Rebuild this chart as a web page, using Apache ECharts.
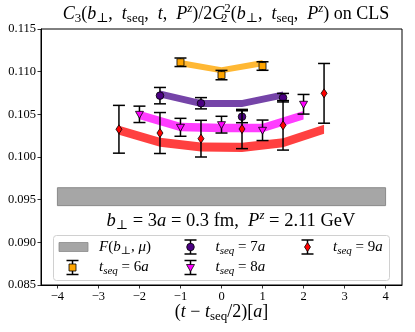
<!DOCTYPE html>
<html><head><meta charset="utf-8">
<script src="https://cdn.jsdelivr.net/npm/echarts@6/dist/echarts.min.js"></script>
<style>html,body{margin:0;padding:0;background:#fff}#c{width:415px;height:332px}</style>
</head><body><div id="c"></div>
<script>
// ---- data ----
const xTicks = [-4, -3, -2, -1, 0, 1, 2, 3, 4];
const yTicks = [0.085, 0.090, 0.095, 0.100, 0.105, 0.110, 0.115];

const x6 = [-1, 0, 1];
const y6 = [0.1111, 0.1096, 0.11066];
const e6 = [0.0005, 0.00055, 0.0005];
const fit6 = [0.1110, 0.11016, 0.1110];

const x7 = [-1.5, -0.5, 0.5, 1.5];
const y7 = [0.10719, 0.1063, 0.10472, 0.10695];
const e7 = [0.00096, 0.00066, 0.0007, 0.0005];
const fit7 = [0.10738, 0.10627, 0.10627, 0.10727];

const x8 = [-2, -1, 0, 1, 2];
const y8 = [0.1050, 0.10348, 0.10379, 0.10313, 0.10618];
const e8 = [0.00096, 0.00105, 0.00098, 0.0012, 0.00115];
const fit8 = [0.10492, 0.10352, 0.1034, 0.1034, 0.10489];

const x9 = [-2.5, -1.5, -0.5, 0.5, 1.5, 2.5];
const y9 = [0.10325, 0.10281, 0.10215, 0.10328, 0.10371, 0.10746];
const e9 = [0.0028, 0.0024, 0.00215, 0.0023, 0.0029, 0.0035];
const fit9 = [0.10313, 0.10172, 0.10117, 0.10113, 0.10168, 0.10325];

const fitHalf = [0.00036, 0.00042, 0.0005, 0.00053];
const Fx = [-4, 4];
const Fband = [0.0943, 0.0964];

// ---- styling ----
const SERIF = '"Liberation Serif","DejaVu Serif",serif';
function richSet(fs) {
  const sub = Math.round(fs * 0.7);
  return {
    r: {fontFamily: SERIF, fontSize: fs, fill: '#000'},
    i: {fontFamily: SERIF, fontSize: fs, fontStyle: 'italic', fill: '#000'},
    s: {fontFamily: SERIF, fontSize: sub, fill: '#000', padding: [Math.round(fs*0.5), 0, 0, 0]},
    si: {fontFamily: SERIF, fontSize: sub, fontStyle: 'italic', fill: '#000', padding: [Math.round(fs*0.5), 0, 0, 0]},
    s0: {fontFamily: SERIF, fontSize: sub, fill: '#000', width: 0, padding: [Math.round(fs*0.5), 0, 0, 0]},
    p: {fontFamily: SERIF, fontSize: sub, fill: '#000', padding: [0, 0, Math.round(fs*0.6), 0]},
    pi: {fontFamily: SERIF, fontSize: sub, fontStyle: 'italic', fill: '#000', padding: [0, 0, Math.round(fs*0.6), 0]}
  };
}
const COL = {o: '#FFA500', pu: '#4B0082', m: '#FF00FF', r: '#FF0000'};
const BAND = {o: '#FFB834', pu: '#7544A8', m: '#FF3DFF', r: '#FF4040'};

function markerEl(cx, cy, kind, color, z) {
  const st = {fill: color, stroke: '#000', lineWidth: 0.8};
  let el;
  if (kind === 'square') el = {type: 'rect', shape: {x: cx - 3.5, y: cy - 3.5, width: 7, height: 7}, style: st};
  else if (kind === 'circle') el = {type: 'circle', shape: {cx: cx, cy: cy, r: 3.8}, style: st};
  else if (kind === 'tri') el = {type: 'polygon', shape: {points: [[cx - 4, cy - 3], [cx + 4, cy - 3], [cx, cy + 4]]}, style: st};
  else el = {type: 'polygon', shape: {points: [[cx, cy - 4.5], [cx + 3, cy], [cx, cy + 4.5], [cx - 3, cy]]}, style: st};
  if (z != null) el.z = z;
  return el;
}
function errGlyph(cx, cy, ty, by, kind, color, z) {
  const cw = 6, ls = {stroke: '#000', lineWidth: 1.5};
  const arr = [
    {type: 'line', shape: {x1: cx, y1: ty, x2: cx, y2: by}, style: ls},
    {type: 'line', shape: {x1: cx - cw, y1: ty, x2: cx + cw, y2: ty}, style: ls},
    {type: 'line', shape: {x1: cx - cw, y1: by, x2: cx + cw, y2: by}, style: ls}
  ];
  if (z != null) arr.forEach(e => { e.z = z; });
  arr.push(markerEl(cx, cy, kind, color, z != null ? z + 1 : null));
  return arr;
}
function errSeries(xs, ys, es, kind, color) {
  return {
    type: 'custom', coordinateSystem: 'cartesian2d', z: 5, silent: true,
    data: xs.map((x, i) => [x, ys[i], es[i]]),
    renderItem: (p, api) => {
      const x = api.value(0), y = api.value(1), e = api.value(2);
      const c = api.coord([x, y]), t = api.coord([x, y + e]), b = api.coord([x, y - e]);
      return {type: 'group', children: errGlyph(c[0], c[1], t[1], b[1], kind, color)};
    }
  };
}
function bandSeries(xs, cs, h, color) {
  return {
    type: 'custom', coordinateSystem: 'cartesian2d', z: 3, silent: true,
    data: xs.map((x, i) => [x, cs[i]]),
    renderItem: (p, api) => {
      if (p.dataIndex !== 0) return null;
      const up = xs.map((x, i) => api.coord([x, cs[i] + h]));
      const lo = xs.map((x, i) => api.coord([x, cs[i] - h])).reverse();
      return {type: 'polygon', shape: {points: up.concat(lo)}, style: {fill: color}};
    }
  };
}
const fSeries = {
  type: 'custom', coordinateSystem: 'cartesian2d', z: 2, silent: true,
  data: [[Fx[0], Fband[0]], [Fx[1], Fband[1]]],
  renderItem: (p, api) => {
    if (p.dataIndex !== 0) return null;
    const a = api.coord([Fx[0], Fband[1]]), b = api.coord([Fx[1], Fband[0]]);
    return {type: 'rect', shape: {x: a[0], y: a[1], width: b[0] - a[0], height: b[1] - a[1]},
      style: {fill: '#A6A6A6', stroke: '#8A8A8A', lineWidth: 1}};
  }
};

// ---- legend (graphic) ----
const LR = richSet(15);
const legendGraphic = [
  {type: 'rect', shape: {x: 53.5, y: 235.5, width: 336, height: 45, r: 3},
    style: {fill: 'rgba(255,255,255,0.8)', stroke: '#d0d0d0', lineWidth: 1}, z: 10},
  {type: 'rect', shape: {x: 59, y: 242.5, width: 29, height: 9}, style: {fill: '#A6A6A6', stroke: '#8A8A8A', lineWidth: 0.8}, z: 11},
  {type: 'text', x: 99, y: 247, z: 11, style: {text: '{i|F}{r|(}{i|b}{s|⊥}{r|, }{i|μ}{r|)}', rich: LR, verticalAlign: 'middle', align: 'left'}},
  {type: 'text', x: 99, y: 267.5, z: 11, style: {text: '{i|t}{si|seq}{r| = 6}{i|a}', rich: LR, verticalAlign: 'middle', align: 'left'}},
  {type: 'text', x: 215.5, y: 247, z: 11, style: {text: '{i|t}{si|seq}{r| = 7}{i|a}', rich: LR, verticalAlign: 'middle', align: 'left'}},
  {type: 'text', x: 215.5, y: 267.5, z: 11, style: {text: '{i|t}{si|seq}{r| = 8}{i|a}', rich: LR, verticalAlign: 'middle', align: 'left'}},
  {type: 'text', x: 333, y: 247, z: 11, style: {text: '{i|t}{si|seq}{r| = 9}{i|a}', rich: LR, verticalAlign: 'middle', align: 'left'}}
]
  .concat(errGlyph(72.5, 267.5, 260.5, 274.5, 'square', COL.o, 12))
  .concat(errGlyph(190.5, 247, 240, 254, 'circle', COL.pu, 12))
  .concat(errGlyph(190.5, 267.5, 260.5, 274.5, 'tri', COL.m, 12))
  .concat(errGlyph(307.5, 247, 240, 254, 'diamond', COL.r, 12));

const TR = richSet(18);
const AR = richSet(18.5);
const otherGraphic = [
  {type: 'text', x: 226, y: 14, z: 11, style: {
    text: '{i|C}{s|3}{r|(}{i|b}{s|⊥}{r|,  }{i|t}{s|seq}{r|,  }{i|t}{r|,  }{i|P}{pi|z}{r|)/2}{i|C}{s0|2}{p|2}{r|(}{i|b}{s|⊥}{r|,  }{i|t}{s|seq}{r|,  }{i|P}{pi|z}{r|) on CLS}',
    rich: TR, align: 'center', verticalAlign: 'middle'}},
  {type: 'text', x: 231, y: 221, z: 11, style: {
    text: '{i|b}{s|⊥}{r| = 3}{i|a}{r| = 0.3 fm,  }{i|P}{pi|z}{r| = 2.11 GeV}',
    rich: AR, align: 'center', verticalAlign: 'middle'}},
  {type: 'text', x: 221.5, y: 312, z: 11, style: {
    text: '{r|(}{i|t}{r| − }{i|t}{s|seq}{r|/2)[}{i|a}{r|]}',
    rich: TR, align: 'center', verticalAlign: 'middle'}}
];

const chart = echarts.init(document.getElementById('c'), null, {renderer: 'canvas'});
chart.setOption({
  animation: false,
  backgroundColor: '#fff',
  grid: {left: 41, right: 13, top: 29, bottom: 47, show: true, borderColor: '#000', borderWidth: 1, backgroundColor: 'transparent'},
  xAxis: {
    type: 'value', min: -4.4, max: 4.4,
    axisLine: {show: true, onZero: false, lineStyle: {color: '#000', width: 1}},
    axisTick: {show: true, inside: false, length: 3.5, customValues: xTicks, lineStyle: {color: '#000', width: 0.8}},
    axisLabel: {show: true, customValues: xTicks, margin: 5, fontFamily: SERIF, fontSize: 12.5, color: '#000',
      formatter: v => (v < 0 ? '−' + Math.abs(v) : String(v))},
    splitLine: {show: false}
  },
  yAxis: {
    type: 'value', min: 0.085, max: 0.115,
    axisLine: {show: true, onZero: false, lineStyle: {color: '#000', width: 1}},
    axisTick: {show: true, inside: false, length: 3.5, customValues: yTicks, lineStyle: {color: '#000', width: 0.8}},
    axisLabel: {show: true, customValues: yTicks, margin: 5, fontFamily: SERIF, fontSize: 12.5, color: '#000',
      formatter: v => v.toFixed(3)},
    splitLine: {show: false}
  },
  series: [
    fSeries,
    bandSeries(x9, fit9, fitHalf[3], BAND.r),
    bandSeries(x8, fit8, fitHalf[2], BAND.m),
    bandSeries(x7, fit7, fitHalf[1], BAND.pu),
    bandSeries(x6, fit6, fitHalf[0], BAND.o),
    errSeries(x6, y6, e6, 'square', COL.o),
    errSeries(x7, y7, e7, 'circle', COL.pu),
    errSeries(x8, y8, e8, 'tri', COL.m),
    errSeries(x9, y9, e9, 'diamond', COL.r)
  ],
  graphic: legendGraphic.concat(otherGraphic)
});
</script>
</body></html>
